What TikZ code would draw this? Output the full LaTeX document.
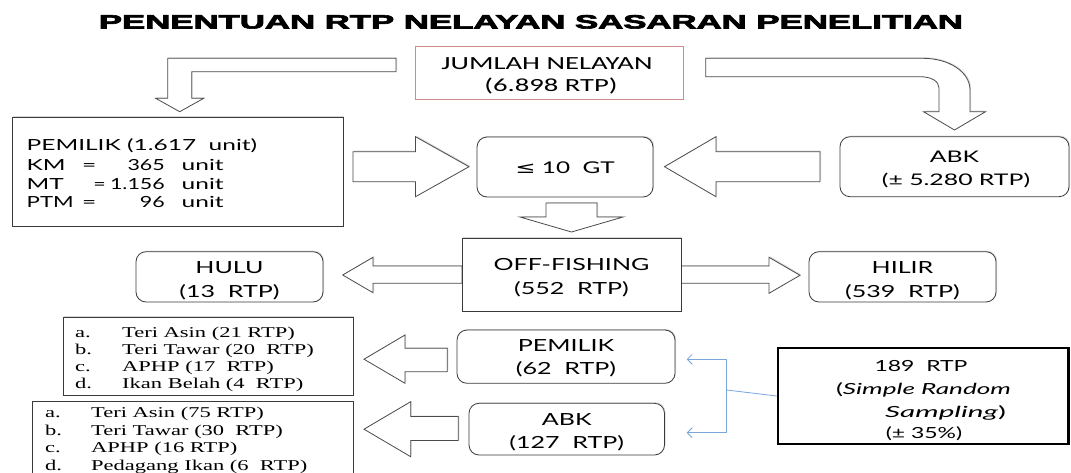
\documentclass[tikz,border=0pt]{standalone}
\usepackage{fontspec}
\usepackage{graphicx}
\usetikzlibrary{shadows,arrows.meta}
\setmainfont{Lato}
\newfontfamily\latof{Lato}
\newfontfamily\carf{Carlito}
\newfontfamily\serf{Liberation Serif}
\newfontfamily\djv{DejaVu Sans}
\newfontfamily\titf{Liberation Sans}[FakeBold=3]
\definecolor{boxc}{HTML}{3A3A3A}
\definecolor{arrc}{HTML}{4A4A4A}
\definecolor{jred}{HTML}{D08A8A}
\definecolor{blu}{HTML}{7AA6DA}
\newcommand\W[1]{\scalebox{1.5}[1]{#1}}
\newcommand\WW[2]{\scalebox{#1}[1]{#2}}
\tikzset{
  shd/.style={drop shadow={shadow xshift=1pt,shadow yshift=1pt,opacity=0.15,fill=black}},
  sbox/.style={draw=boxc,line width=0.8pt,fill=white,inner sep=0pt,shd},
  rbox/.style={sbox,rounded corners=10pt},
  blk/.style={draw=arrc,line width=0.8pt,fill=white,line join=miter,shd},
  lbl/.style={inner sep=0pt,anchor=base},
  fA/.style={font=\carf\fontsize{18.5}{22}\selectfont},
  fB/.style={font=\latof\fontsize{15.3}{18}\selectfont},
  fC/.style={font=\latof\fontsize{16.7}{20}\selectfont},
  fD/.style={font=\serf\fontsize{15}{17}\selectfont},
  bl/.style={draw=blu,line width=0.8pt},
}
\begin{document}
\begin{tikzpicture}[x=1pt,y=-1pt]
\useasboundingbox (0,0) rectangle (1071,472);
% title
\node[lbl] (title) at (531,28.5) {\resizebox{864pt}{13.5pt}{\titf\bfseries PENENTUAN RTP NELAYAN SASARAN PENELITIAN}};
% block arrows
\path[blk] (396,58.3) -- (167.7,58.3) -- (167.7,98.3) -- (155.7,98.3) -- (179.7,111.7) -- (203.7,98.3) -- (191.7,98.3) -- (191.7,71.7) -- (396,71.7) -- cycle;
\path[blk] (705.7,58.3) -- (923,58.3) .. controls (949,58.3) and (970,72) .. (970,90) -- (970,111.7) -- (985.5,111.7) -- (954.5,130) -- (923.5,111.7) -- (939,111.7) -- (939,88) .. controls (939,81) and (931,76.7) .. (920,76.7) -- (705.7,76.7) -- cycle;
\path[blk] (353,151.7) -- (415.5,151.7) -- (415.5,136.7) -- (469,166.7) -- (415.5,196.7) -- (415.5,181.7) -- (353,181.7) -- cycle;
\path[blk] (820,151.7) -- (716,151.7) -- (716,136.7) -- (664.5,166.7) -- (716,196.7) -- (716,181.7) -- (820,181.7) -- cycle;
\path[blk] (546,203) -- (597,203) -- (597,217) -- (623,217) -- (571.5,232) -- (520,217) -- (546,217) -- cycle;
\path[blk] (462,266) -- (373,266) -- (373,257.3) -- (342.7,275) -- (373,292.7) -- (373,283.3) -- (462,283.3) -- cycle;
\path[blk] (681,266) -- (769,266) -- (769,257.3) -- (800,275.3) -- (769,293.3) -- (769,283.3) -- (681,283.3) -- cycle;
\path[blk] (447.3,348.3) -- (405,348.3) -- (405,335) -- (364,359.2) -- (405,383.3) -- (405,371.7) -- (447.3,371.7) -- cycle;
\path[blk] (458.3,416.5) -- (410.7,416.5) -- (410.7,401.7) -- (364,429.2) -- (410.7,456.7) -- (410.7,440.5) -- (458.3,440.5) -- cycle;
% boxes
\node[sbox,draw=jred,minimum width=268pt,minimum height=52.3pt] (jml) at (549,72.85) {};
\node[sbox,minimum width=331pt,minimum height=109.4pt] (pem) at (177.5,172) {};
\node[rbox,minimum width=176pt,minimum height=60pt] (gt) at (565,167) {};
\node[rbox,minimum width=229pt,minimum height=60pt] (abk) at (954.5,166.7) {};
\node[sbox,minimum width=219pt,minimum height=73pt] (off) at (571.5,274.5) {};
\node[rbox,minimum width=187pt,minimum height=50.3pt] (hulu) at (229.5,276.85) {};
\node[rbox,minimum width=187pt,minimum height=50.3pt] (hilir) at (902.5,276.85) {};
\node[sbox,minimum width=290pt,minimum height=78pt] (lA) at (208,356) {};
\node[sbox,minimum width=321pt,minimum height=78.3pt] (lB) at (192.5,440.85) {};
\node[rbox,minimum width=218pt,minimum height=53.3pt] (pem2) at (566,356.65) {};
\node[rbox,minimum width=195.5pt,minimum height=51.7pt] (abk2) at (566.75,429.15) {};
\node[draw=black,line width=2.5pt,fill=white,inner sep=0pt,minimum width=290.6pt,minimum height=96pt] (srs) at (923.3,396) {};
% blue connector
\coordinate (bj) at (726.7,390);
\coordinate (t1) at (686.7,359.3);
\coordinate (t2) at (686.7,432.7);
\draw[bl] (srs.west) -- (bj);
\draw[bl,-{Straight Barb[length=5pt,width=10pt]}] (bj) |- (t1);
\draw[bl,-{Straight Barb[length=5pt,width=10pt]}] (bj) |- (t2);
% texts
\node[lbl,fA] (j1) at (547,69) {\WW{1.55}{JUMLAH NELAYAN}};
\node[lbl,fA] (j2) at (551,91) {\WW{1.55}{(6.898 RTP)}};
\node[lbl,fB,anchor=base west] (p1) at (26.5,150) {\WW{1.6}{PEMILIK (1.617~ unit)}};
\node[lbl,fB,anchor=base west] (p2a) at (26.5,170) {\WW{1.6}{KM}};
\node[lbl,fB] (p2b) at (89.2,170) {\WW{1.6}{=}};
\node[lbl,fB,anchor=base east] (p2c) at (165,170) {\WW{1.4}{365}};
\node[lbl,fB,anchor=base west] (p2d) at (181.5,170) {\WW{1.6}{unit}};
\node[lbl,fB,anchor=base west] (p3a) at (26.5,189.3) {\WW{1.6}{MT}};
\node[lbl,fB] (p3b) at (99.5,189.3) {\WW{1.4}{=}};
\node[lbl,fB,anchor=base east] (p3c) at (165,189.3) {\WW{1.4}{1.156}};
\node[lbl,fB,anchor=base west] (p3d) at (181.5,189.3) {\WW{1.6}{unit}};
\node[lbl,fB,anchor=base west] (p4a) at (26.5,207.3) {\WW{1.45}{PTM}};
\node[lbl,fB] (p4b) at (89.2,207.3) {\WW{1.6}{=}};
\node[lbl,fB,anchor=base east] (p4c) at (165,207.3) {\WW{1.4}{96}};
\node[lbl,fB,anchor=base west] (p4d) at (181.5,207.3) {\WW{1.6}{unit}};
\node[lbl,font=\latof\fontsize{16.2}{19}\selectfont] (gtt) at (565,173.3) {\W{{\djv ≤} 10~ GT}};
\node[lbl,font=\latof\fontsize{16}{19}\selectfont] (a1) at (954.5,162.5) {\WW{1.55}{ABK}};
\node[lbl,font=\latof\fontsize{16}{19}\selectfont] (a2) at (956,185.5) {\WW{1.55}{(± 5.280 RTP)}};
\node[lbl,fC] (o1) at (571.5,270.5) {\W{OFF-FISHING}};
\node[lbl,fC] (o2) at (571.5,294.5) {\W{(552~ RTP)}};
\node[lbl,fC] (h1) at (229.5,273.5) {\W{HULU}};
\node[lbl,fC] (h2) at (229.5,297) {\W{(13~ RTP)}};
\node[lbl,fC] (i1) at (902.5,273.5) {\W{HILIR}};
\node[lbl,fC] (i2) at (902.5,297) {\W{(539~ RTP)}};
\node[lbl,fC] (q1) at (566,351.5) {\W{PEMILIK}};
\node[lbl,fC] (q2) at (566,374) {\W{(62~ RTP)}};
\node[lbl,fC] (r1) at (566.75,425) {\W{ABK}};
\node[lbl,fC] (r2) at (566.75,448.5) {\W{(127~ RTP)}};
\node[lbl,fB] (s1) at (921,371) {\W{189~ RTP}};
\node[lbl,fB] (s2) at (923.5,394) {\WW{1.71}{(\textit{Simple Random}}};
\node[lbl,fB,anchor=base west] (s3) at (885,417) {\WW{1.94}{\textit{Sampling})}};
\node[lbl,fB] (s4) at (924,438) {\W{(± 35\%)}};
% lists
\foreach \n/\yy/\lt/\tx in {1/337.5/a./Teri Asin (21 RTP),2/354.5/b./Teri Tawar (20~ RTP),3/371.3/c./APHP (17~ RTP),4/388/d./Ikan Belah (4~ RTP)}{
  \node[lbl,fD,anchor=base west] (la\n) at (75,\yy) {\W{\lt}};
  \node[lbl,fD,anchor=base west] (lt\n) at (122,\yy) {\W{\tx}};
}
\foreach \n/\yy/\lt/\tx in {1/417.5/a./Teri Asin (75 RTP),2/435/b./Teri Tawar (30~ RTP),3/452.5/c./APHP (16 RTP),4/470/d./Pedagang Ikan (6~ RTP)}{
  \node[lbl,fD,anchor=base west] (lb\n) at (45,\yy) {\W{\lt}};
  \node[lbl,fD,anchor=base west] (lu\n) at (91,\yy) {\W{\tx}};
}
\end{tikzpicture}
\end{document}
